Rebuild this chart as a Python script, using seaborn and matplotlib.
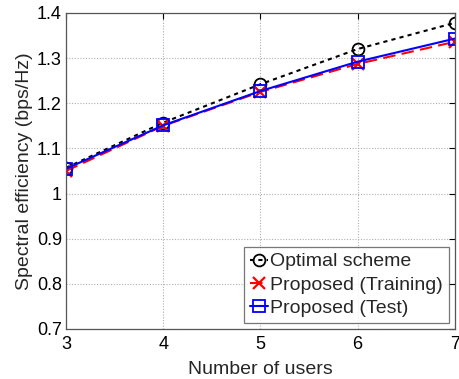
import matplotlib
matplotlib.use("Agg")
import matplotlib.pyplot as plt
import seaborn as sns
import pandas as pd

users = [3, 4, 5, 6, 7]
optimal = [1.057, 1.157, 1.242, 1.320, 1.378]
proposed_training = [1.050, 1.150, 1.225, 1.287, 1.336]
proposed_test = [1.055, 1.151, 1.227, 1.292, 1.343]
series_names = ["Optimal scheme", "Proposed (Training)", "Proposed (Test)"]

df = pd.DataFrame({
    "users": users * 3,
    "se": optimal + proposed_training + proposed_test,
    "scheme": [series_names[0]] * 5 + [series_names[1]] * 5 + [series_names[2]] * 5,
})

sns.set_style("white")
plt.rcParams["font.family"] = ["Liberation Sans", "DejaVu Sans"]

fig = plt.figure(figsize=(4.59, 3.79), dpi=100)
ax = fig.add_axes([0.144, 0.132, 0.847, 0.834])

styles = {
    series_names[0]: dict(color="black", ls=(0, (2, 2)), marker="o", mfc="none", ms=8.5, lw=1.5, mew=1.3),
    series_names[1]: dict(color="red", ls=(0, (6, 3)), marker="x", ms=8, mew=1.6, lw=1.5),
    series_names[2]: dict(color="blue", ls="-", marker="s", mfc="none", ms=8.5, lw=1.5, mew=1.3),
}
for name in series_names:
    sub = df[df["scheme"] == name]
    st = styles[name]
    sns.lineplot(data=sub, x="users", y="se", ax=ax, label=name,
                 color=st["color"], linestyle=st["ls"], marker=st["marker"],
                 markersize=st["ms"], markerfacecolor=st.get("mfc", st["color"]),
                 markeredgecolor=st["color"], markeredgewidth=st.get("mew", 1.2),
                 linewidth=st["lw"])

ax.set_xlim(3, 7)
ax.set_ylim(0.7, 1.4)
ax.set_xticks(users)
ax.set_yticks([0.7, 0.8, 0.9, 1.0, 1.1, 1.2, 1.3, 1.4])
ax.set_yticklabels(["0.7", "0.8", "0.9", "1", "1.1", "1.2", "1.3", "1.4"])
ax.grid(True, color="#b0b0b0", linestyle=(0, (1, 1.5)), linewidth=0.8)
ax.tick_params(direction="in", length=4, labelsize=13, top=True, right=True,
               colors="black")
ax.tick_params(axis="x", pad=5)
ax.tick_params(axis="y", pad=3)
for s in ax.spines.values():
    s.set_color("#555555")
    s.set_linewidth(0.9)
ax.set_xlabel("Number of users", fontsize=14, labelpad=6)
ax.set_ylabel("Spectral efficiency (bps/Hz)", fontsize=14, labelpad=3)

leg = ax.legend(loc="lower right", fontsize=14, frameon=True, fancybox=False,
                borderpad=0.3, labelspacing=0.3, handlelength=0.9,
                handletextpad=0.15, borderaxespad=0.3)
leg.get_frame().set_edgecolor("#555555")
leg.get_frame().set_linewidth(0.9)

fig.savefig("out.png", dpi=100)
